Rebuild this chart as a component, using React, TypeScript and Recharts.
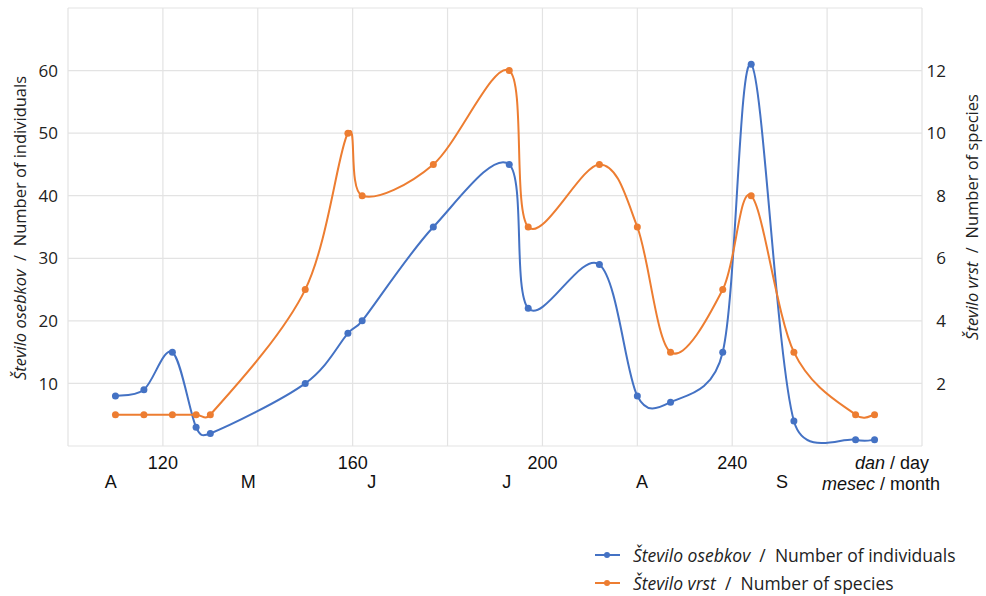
import React from 'react';
import { LineChart, Line, XAxis, YAxis, CartesianGrid, Legend } from 'recharts';

const days = [110, 116, 122, 127, 130, 150, 159, 162, 177, 193, 197, 212, 220, 227, 238, 244, 253, 266, 270];
const individuals = [8, 9, 15, 3, 2, 10, 18, 20, 35, 45, 22, 29, 8, 7, 15, 61, 4, 1, 1];
const species = [1, 1, 1, 1, 1, 5, 10, 8, 9, 12, 7, 9, 7, 3, 5, 8, 3, 1, 1];

const dayTicks = [100, 120, 140, 160, 180, 200, 220, 240, 260, 280];
const dayLabels = [120, 160, 200, 240];
const monthTicks = [109, 138, 164, 192.5, 221, 250.5];
const monthLabels = ['A', 'M', 'J', 'J', 'A', 'S'];
const leftTicks = [0, 10, 20, 30, 40, 50, 60, 70];
const leftLabels = [10, 20, 30, 40, 50, 60];
const rightTicks = [0, 2, 4, 6, 8, 10, 12, 14];
const rightLabels = [2, 4, 6, 8, 10, 12];

const BLUE = '#4472C4';
const ORANGE = '#ED7D31';
const GRID = '#e3e3e3';

const data = days.map((d, i) => ({ day: d, ind: individuals[i], sp: species[i] }));

// Smoothed line (spreadsheet style): Catmull-Rom tangents, clamped on short segments
function smoothCurve(context: any) {
  let pts: number[][] = [];
  const clamp = (tx: number, ty: number, seg: number) => {
    const len = Math.hypot(tx, ty);
    const lim = 0.6 * seg;
    if (len > lim && len > 0) {
      const s = lim / len;
      return [tx * s, ty * s];
    }
    return [tx, ty];
  };
  return {
    areaStart() {},
    areaEnd() {},
    lineStart() { pts = []; },
    lineEnd() {
      const n = pts.length;
      if (!n) return;
      context.moveTo(pts[0][0], pts[0][1]);
      for (let i = 0; i < n - 1; i++) {
        const p0 = pts[i - 1] || pts[i];
        const p1 = pts[i];
        const p2 = pts[i + 1];
        const p3 = pts[i + 2] || pts[i + 1];
        const seg = Math.hypot(p2[0] - p1[0], p2[1] - p1[1]);
        const t1 = clamp((p2[0] - p0[0]) / 6, (p2[1] - p0[1]) / 6, seg);
        const t2 = clamp((p3[0] - p1[0]) / 6, (p3[1] - p1[1]) / 6, seg);
        context.bezierCurveTo(p1[0] + t1[0], p1[1] + t1[1], p2[0] - t2[0], p2[1] - t2[1], p2[0], p2[1]);
      }
    },
    point(x: number, y: number) { pts.push([+x, +y]); },
  };
}

const SANS = '"Open Sans", "Noto Sans", sans-serif';
const ARIAL = '"Liberation Sans", Arial, sans-serif';

const LeftTick = (props: any) => {
  const { x, y, payload } = props;
  if (!leftLabels.includes(payload.value)) return null;
  return (
    <text x={x} y={y} dy="0.36em" textAnchor="end" fontFamily={SANS} fontSize={17} fill="#222">
      {payload.value}
    </text>
  );
};

const RightTick = (props: any) => {
  const { x, y, payload } = props;
  if (!rightLabels.includes(payload.value)) return null;
  return (
    <text x={x + 24} y={y} dy="0.36em" textAnchor="end" fontFamily={SANS} fontSize={17} fill="#222">
      {payload.value}
    </text>
  );
};

const DayTick = (props: any) => {
  const { x, y, payload } = props;
  if (!dayLabels.includes(payload.value)) return null;
  return (
    <text x={x} y={y} dy="0.36em" textAnchor="middle" fontFamily={ARIAL} fontSize={18} fill="#111">
      {payload.value}
    </text>
  );
};

const MonthTick = (props: any) => {
  const { x, y, index } = props;
  return (
    <text x={x} y={y} dy="0.36em" textAnchor="middle" fontFamily={ARIAL} fontSize={18} fill="#111">
      {monthLabels[index]}
    </text>
  );
};

const LeftTitle = () => (
  <text x={20} y={228} transform="rotate(-90 20 228)" textAnchor="middle" dy="0.36em" fontFamily={SANS} fontSize={16.5} fill="#222">
    <tspan fontStyle="italic">Število osebkov</tspan>
    <tspan>{'\u00a0 /\u00a0 Number of individuals'}</tspan>
  </text>
);

const RightTitle = () => (
  <text x={972} y={217} transform="rotate(-90 972 217)" textAnchor="middle" dy="0.36em" fontFamily={SANS} fontSize={16.5} fill="#222">
    <tspan fontStyle="italic">Število vrst</tspan>
    <tspan>{'\u00a0 /\u00a0 Number of species'}</tspan>
  </text>
);

const AxisNote = () => (
  <g fontFamily={ARIAL} fontSize={18} fill="#111">
    <text x={855} y={463} dy="0.36em">
      <tspan fontStyle="italic">dan</tspan>
      <tspan>{' / day'}</tspan>
    </text>
    <text x={822} y={484} dy="0.36em">
      <tspan fontStyle="italic">mesec</tspan>
      <tspan>{' / month'}</tspan>
    </text>
  </g>
);

const legendItems = [
  { color: BLUE, it: 'Število osebkov', rest: '\u00a0 /\u00a0 Number of individuals' },
  { color: ORANGE, it: 'Število vrst', rest: '\u00a0 /\u00a0 Number of species' },
];

const LegendContent = () => (
  <div style={{ fontFamily: SANS, fontSize: 17.5, color: '#222', lineHeight: '28px' }}>
    {legendItems.map((l, i) => (
      <div key={i} style={{ display: 'flex', alignItems: 'center', height: 28, whiteSpace: 'nowrap' }}>
        <svg width={43} height={12} style={{ marginRight: 0, flex: 'none' }}>
          <line x1={5} y1={6} x2={30} y2={6} stroke={l.color} strokeWidth={2} />
          <circle cx={17} cy={6} r={3} fill={l.color} />
        </svg>
        <span style={{ fontStyle: 'italic' }}>{l.it}</span>
        <span style={{ whiteSpace: 'pre' }}>{l.rest}</span>
      </div>
    ))}
  </div>
);

export default function App() {
  return (
    <div style={{ position: 'absolute', left: 0, top: 0, width: 986, height: 596, background: '#fff' }}>
      <LineChart width={986} height={596} data={data} margin={{ top: 8, right: 0, left: 0, bottom: 100 }}>
        <CartesianGrid stroke={GRID} strokeWidth={1.2} xAxisId="day" yAxisId="left" />
        <XAxis
          xAxisId="day"
          dataKey="day"
          type="number"
          domain={[100, 280]}
          ticks={dayTicks}
          interval={0}
          axisLine={false}
          tickLine={false}
          tickSize={0}
          tickMargin={17}
          height={20}
          tick={<DayTick />}
          label={{ content: () => <AxisNote /> }}
        />
        <XAxis
          xAxisId="month"
          dataKey="day"
          type="number"
          domain={[100, 280]}
          ticks={monthTicks}
          interval={0}
          axisLine={false}
          tickLine={false}
          tickSize={0}
          tickMargin={16}
          height={30}
          tick={<MonthTick />}
        />
        <YAxis
          yAxisId="left"
          orientation="left"
          type="number"
          domain={[0, 70]}
          ticks={leftTicks}
          interval={0}
          width={68}
          axisLine={false}
          tickLine={false}
          tickSize={0}
          tickMargin={10}
          tick={<LeftTick />}
          label={{ content: () => <LeftTitle /> }}
        />
        <YAxis
          yAxisId="right"
          orientation="right"
          type="number"
          domain={[0, 14]}
          ticks={rightTicks}
          interval={0}
          width={64}
          axisLine={false}
          tickLine={false}
          tickSize={0}
          tickMargin={0}
          tick={<RightTick />}
          label={{ content: () => <RightTitle /> }}
        />
        <Legend
          layout="vertical"
          align="center"
          verticalAlign="middle"
          wrapperStyle={{ left: 590, top: 541, width: 396 }}
          content={() => <LegendContent />}
        />
        <Line
          xAxisId="day"
          yAxisId="left"
          dataKey="ind"
          type={smoothCurve as any}
          stroke={BLUE}
          strokeWidth={2}
          dot={{ r: 3.5, fill: BLUE, stroke: BLUE, strokeWidth: 0 }}
          activeDot={false}
          isAnimationActive={false}
        />
        <Line
          xAxisId="day"
          yAxisId="right"
          dataKey="sp"
          type={smoothCurve as any}
          stroke={ORANGE}
          strokeWidth={2}
          dot={{ r: 3.5, fill: ORANGE, stroke: ORANGE, strokeWidth: 0 }}
          activeDot={false}
          isAnimationActive={false}
        />
      </LineChart>
    </div>
  );
}
